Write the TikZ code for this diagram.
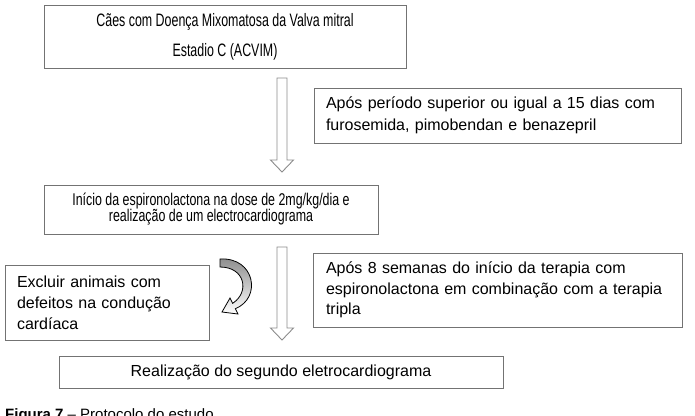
\documentclass[tikz,border=0pt]{standalone}
\usepackage{fontspec}
\setmainfont{Liberation Sans}
\newfontfamily\narrowfont[FakeStretch=0.69]{Liberation Sans}
\newfontfamily\semifont[FakeStretch=0.73]{Liberation Sans}
\usetikzlibrary{calc}
\tikzset{
    box/.style={draw=black!55, line width=0.9pt, rectangle, inner sep=0pt},
    hollow/.style={draw=black!45, line width=0.9pt, fill=white},
}
% seta oca vertical de (#1) ate (#2)
\newcommand\hollowdown[2]{%
    \draw[hollow] let \p1=(#1), \p2=(#2) in
        (\x1-5pt,\y1) -- (\x1-5pt,\y2+12pt) -- (\x1-11.5pt,\y2+12pt) -- (\x2,\y2)
        -- (\x1+11.5pt,\y2+12pt) -- (\x1+5pt,\y2+12pt) -- (\x1+5pt,\y1) -- cycle;}

\begin{document}
\begin{tikzpicture}[x=1pt,y=-1pt]
    \useasboundingbox (0,0) rectangle (695,415);

    % caixas do protocolo
    \node[box, minimum width=362pt, minimum height=63pt, align=center,
          font={\narrowfont\fontsize{18}{30}\selectfont}] (cdm) at (225,36.5)
          {Cães com Doença Mixomatosa da Valva mitral\\Estadio C (ACVIM)};
    \node[box, minimum width=367pt, minimum height=55pt, text width=343pt, inner xsep=12pt,
          align=left, font={\fontsize{16}{22}\selectfont}] (prev) at (497.5,115.5)
          {Após período superior ou igual a 15 dias com\\furosemida, pimobendan e benazepril};
    \node[box, minimum width=334pt, minimum height=49pt, align=center,
          font={\semifont\fontsize{17}{16}\selectfont}] (espiro) at (211,209.5)
          {Início da espironolactona na dose de 2mg/kg/dia e\\realização de um electrocardiograma};
    \node[box, minimum width=204pt, minimum height=75pt, text width=180pt, inner xsep=12pt,
          align=left, font={\fontsize{16}{21}\selectfont}] (exclude) at (107,302.5)
          {Excluir animais com\\defeitos na condução\\cardíaca};
    \node[box, minimum width=369pt, minimum height=74pt, text width=343pt, inner xsep=13pt,
          align=left, font={\fontsize{16}{20.5}\selectfont}] (weeks) at (497.5,290)
          {Após 8 semanas do início da terapia com\\espironolactona em combinação com a terapia\\tripla};
    \node[box, minimum width=444pt, minimum height=32pt,
          font={\fontsize{16}{19}\selectfont}] (ecg2) at (281,372)
          {Realização do segundo eletrocardiograma};

    % setas ocas entre as caixas
    \coordinate (a1s) at (282,78);
    \coordinate (a1e) at (282,172);
    \coordinate (a2s) at (282,247);
    \coordinate (a2e) at (282,340);
    \hollowdown{a1s}{a1e}
    \hollowdown{a2s}{a2e}

    % seta curva para a exclusao
    \draw[black, line width=0.8pt, top color=black!45, bottom color=white]
        (220,259) .. controls (255,257) and (262,298) .. (235.3,308.7)
        -- (238,314) -- (222,312) -- (230,298) -- (232.7,303.3)
        .. controls (250,292) and (245,267) .. (220,267) -- cycle;

    % legenda
    \node[anchor=base west, inner sep=0pt, font={\fontsize{15}{18}\selectfont}] (caption) at (5,419)
        {\textbf{Figura 7} – Protocolo do estudo};
\end{tikzpicture}
\end{document}
